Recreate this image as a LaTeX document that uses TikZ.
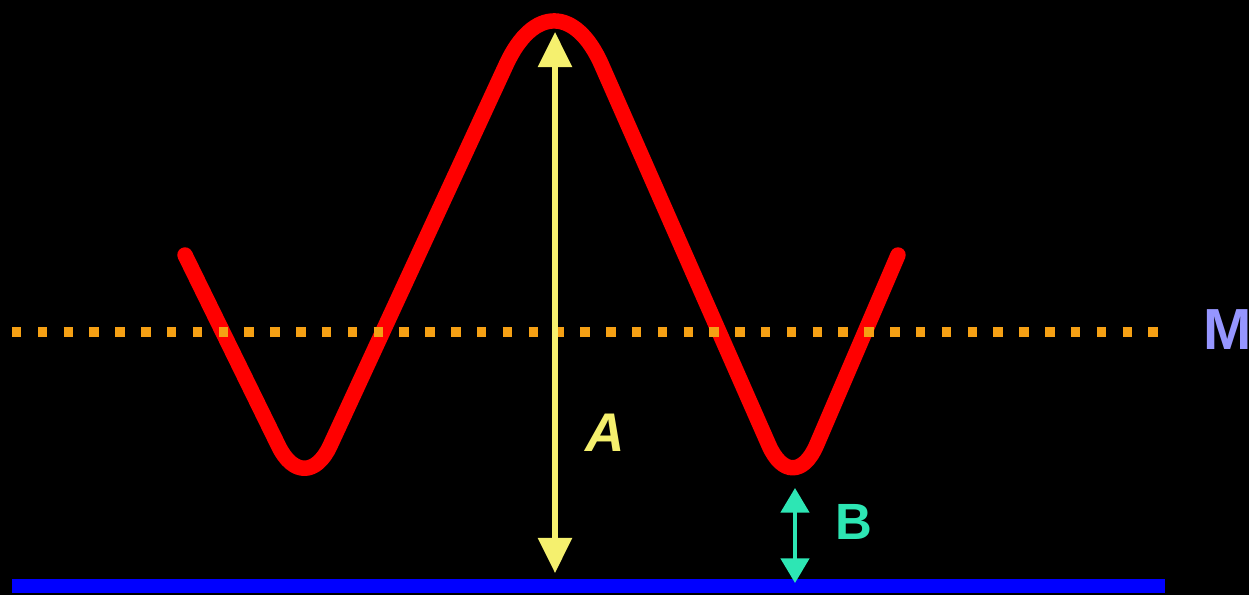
\documentclass[tikz,border=0pt]{standalone}
\usepackage{fontspec}
\setsansfont{Liberation Sans}
\usetikzlibrary{arrows.meta}

\definecolor{waveRed}{RGB}{255,0,0}
\definecolor{midOrange}{RGB}{245,160,20}
\definecolor{ampYellow}{RGB}{245,240,110}
\definecolor{offCyan}{RGB}{45,230,180}
\definecolor{labelLilac}{RGB}{150,150,255}
\definecolor{baseBlue}{RGB}{0,0,255}

\begin{document}
\begin{tikzpicture}[x=0.02cm, y=-0.02cm,
    wave/.style={draw=waveRed, line width=8.8pt, line cap=round, line join=round},
    midline/.style={draw=midOrange, line width=6.2pt, dash pattern=on 5.4pt off 9.3pt},
    baseline/.style={draw=baseBlue, line width=8pt},
    amparrow/.style={draw=ampYellow, line width=3pt, >={Triangle[width=19pt,length=20pt]}, <->},
    offarrow/.style={draw=offCyan, line width=2.4pt, >={Triangle[width=16pt,length=14pt]}, <->},
    lbl/.style={inner sep=0pt, font=\sffamily\bfseries\fontsize{31}{31}\selectfont}]

    % Background
    \useasboundingbox (0,0) rectangle (1249,595);
    \fill[black] (0,0) rectangle (1249,595);

    % Wave
    \draw[wave] (185,255) [rounded corners=1.2cm] -- (305,500) [rounded corners=2.32cm] -- (555,-41) [rounded corners=1.2cm] -- (793,500) -- (898,255);

    % Midline and base line
    \draw[midline] (12,332) -- (1165,332);
    \draw[baseline] (12,586) -- (1165,586);
    \node[lbl, font=\sffamily\bfseries\fontsize{33}{33}\selectfont, text=labelLilac, anchor=west] (mlabel) at (1203,330) {M};

    % Amplitude arrow
    \coordinate (atop) at (555,32);
    \coordinate (abot) at (555,573);
    \draw[amparrow] (atop) -- (abot);
    \node[lbl, font=\sffamily\bfseries\itshape\fontsize{31}{31}\selectfont, text=ampYellow] (alabel) at (605,433) {A};

    % Offset arrow
    \coordinate (btop) at (795,488);
    \coordinate (bbot) at (795,583);
    \draw[offarrow] (btop) -- (bbot);
    \node[lbl, font=\sffamily\bfseries\fontsize{29}{29}\selectfont, text=offCyan] (blabel) at (854,522) {B};
\end{tikzpicture}
\end{document}
